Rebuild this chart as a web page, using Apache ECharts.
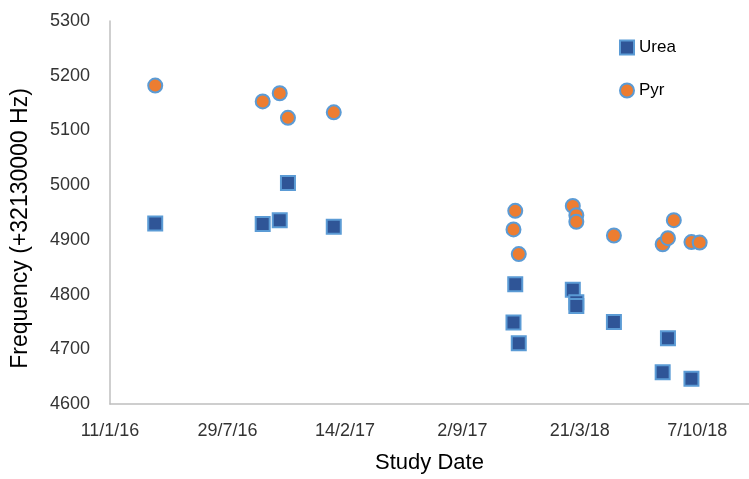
<!DOCTYPE html>
<html>
<head>
<meta charset="utf-8">
<script src="https://cdn.jsdelivr.net/npm/echarts@6/dist/echarts.min.js"></script>
<style>
    html, body { margin: 0; padding: 0; background: #fff; }
    #chart { width: 749px; height: 479px; }
</style>
</head>
<body>
<div id="chart"></div>
<script>
// x axis counts days from 11/1/16, ticks every 200 days (like the Excel date axis)
const startDate = "2016-01-11";

const ureaDates = [
    "2016-03-28", "2016-09-27", "2016-10-26", "2016-11-09", "2017-01-26",
    "2017-11-28", "2017-12-01", "2017-12-07", "2018-03-09", "2018-03-15",
    "2018-03-15", "2018-05-18", "2018-08-09", "2018-08-18", "2018-09-27",
];
const ureaValues = [
    4930, 4929, 4936, 5004, 4924,
    4749, 4819, 4711, 4809, 4786,
    4779, 4750, 4658, 4720, 4646,
];

const pyrDates = [
    "2016-03-28", "2016-09-27", "2016-10-26", "2016-11-09", "2017-01-26",
    "2017-11-28", "2017-12-01", "2017-12-07", "2018-03-09", "2018-03-15",
    "2018-03-15", "2018-05-18", "2018-08-09", "2018-08-18", "2018-08-28",
    "2018-09-27", "2018-10-11",
];
const pyrValues = [
    5182, 5153, 5168, 5123, 5133,
    4919, 4953, 4874, 4962, 4945,
    4933, 4908, 4892, 4903, 4936,
    4896, 4895,
];

const DAY = 86400000;
const t0 = Date.parse(startDate);

function toDays(d) {
    return Math.round((Date.parse(d) - t0) / DAY);
}

function dayLabel(v) {
    const d = new Date(t0 + v * DAY);
    return d.getUTCDate() + "/" + (d.getUTCMonth() + 1) + "/" + String(d.getUTCFullYear()).slice(2);
}

function pairs(dates, values) {
    return dates.map((d, i) => [toDays(d), values[i]]);
}

const labelColor = "#333";

const option = {
    animation: false,
    grid: {
        left: 110,
        right: 0,
        top: 21,
        bottom: 75,
    },
    legend: {
        orient: "vertical",
        left: 619,
        top: 39,
        padding: 0,
        itemGap: 26,
        itemWidth: 14,
        itemHeight: 14,
        textStyle: {
            fontFamily: "Liberation Sans",
            fontSize: 17,
            color: "#000",
        },
        data: ["Urea", "Pyr"],
    },
    xAxis: {
        type: "value",
        min: 0,
        max: 1088,
        interval: 200,
        name: "Study Date",
        nameLocation: "middle",
        nameGap: 48,
        nameTextStyle: {
            fontFamily: "Liberation Sans",
            fontSize: 22,
            color: "#000",
        },
        axisLine: {
            lineStyle: { color: "#BFBFBF", width: 1.5 },
        },
        axisTick: { show: false },
        splitLine: { show: false },
        axisLabel: {
            showMaxLabel: false,
            margin: 18,
            fontFamily: "Liberation Sans",
            fontSize: 18,
            color: labelColor,
            formatter: dayLabel,
        },
    },
    yAxis: {
        type: "value",
        min: 4600,
        max: 5300,
        interval: 100,
        name: "Frequency (+32130000 Hz)",
        nameLocation: "middle",
        nameGap: 78,
        nameTextStyle: {
            fontFamily: "Liberation Sans",
            fontSize: 23,
            color: "#000",
            padding: [0, 32, 0, 0],
        },
        axisLine: {
            show: true,
            lineStyle: { color: "#BFBFBF", width: 1.5 },
        },
        axisTick: { show: false },
        splitLine: { show: false },
        axisLabel: {
            margin: 20,
            fontFamily: "Liberation Sans",
            fontSize: 18,
            color: labelColor,
            formatter: (v) => String(v),
        },
    },
    series: [
        {
            name: "Urea",
            type: "scatter",
            symbol: "rect",
            symbolSize: 14,
            itemStyle: {
                color: "#2F5597",
                borderColor: "#5B9BD5",
                borderWidth: 2,
                opacity: 1,
            },
            data: pairs(ureaDates, ureaValues),
        },
        {
            name: "Pyr",
            type: "scatter",
            symbol: "circle",
            symbolSize: 14,
            itemStyle: {
                color: "#ED7D31",
                borderColor: "#5B9BD5",
                borderWidth: 2,
                opacity: 1,
            },
            data: pairs(pyrDates, pyrValues),
        },
    ],
};

const chart = echarts.init(document.getElementById("chart"));
chart.setOption(option);
</script>
</body>
</html>
